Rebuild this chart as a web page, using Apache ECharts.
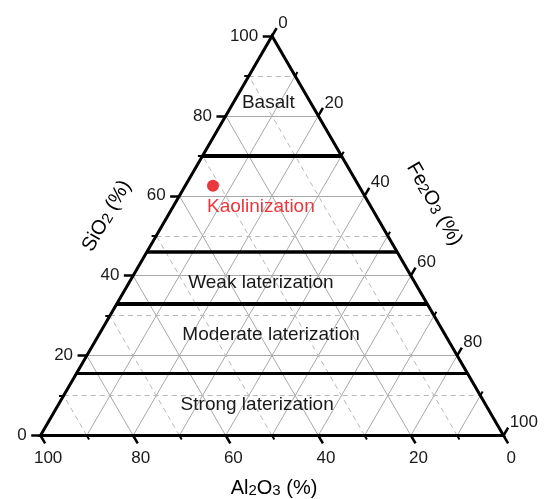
<!DOCTYPE html>
<html><head><meta charset="utf-8">
<script src="https://cdn.jsdelivr.net/npm/echarts@6/dist/echarts.min.js"></script>
<style>html,body{margin:0;padding:0;background:#fff}#c{width:548px;height:499px}</style>
</head><body><div id="c"></div>
<script>
// ---------------- data ----------------
const majorTicks = [0, 20, 40, 60, 80, 100];
const minorTicks = [10, 30, 50, 70, 90];
const gridSteps = [10, 20, 30, 40, 50, 60, 70, 80, 90];
const boundarySiO2 = [70, 46, 33, 15.5];
const zoneNames = ['Basalt', 'Kaolinization', 'Weak laterization', 'Moderate laterization', 'Strong laterization'];
const sampleSiO2 = [62.5];
const sampleAl2O3 = [31.5];
const sampleFe2O3 = [6];

// ---------------- layout ----------------
const FONT = 'Liberation Sans, Arial, Helvetica, sans-serif';
const TXT = '#1a1a1a';
const zoneAnchor = [[49.2, 83.2], [47.6, 57.3], [47.6, 38.2], [49.8, 25.2], [46.8, 7.6]];
const zoneColor = ['#1a1a1a', '#e8383d', '#1a1a1a', '#1a1a1a', '#1a1a1a'];
const boundaryWidth = [4, 3.5, 4, 3];
const TMAJ = 2.0, TMIN = 1.0;

// ternary (Al2O3 = bottom-left, SiO2 = top, Fe2O3 = bottom-right) -> plot coords
function toXY(a, s, f) {
  const sum = a + s + f;
  return [(f + s / 2) * 100 / sum, s * 100 / sum];
}

const solidSeg = [], dashSeg = [];
gridSteps.forEach(k => {
  const si = [toXY(100 - k, k, 0), toXY(0, k, 100 - k)];
  const fe = [toXY(100 - k, 0, k), toXY(0, 100 - k, k)];
  const al = [toXY(k, 0, 100 - k), toXY(k, 100 - k, 0)];
  const even = k % 20 === 0;
  (even ? solidSeg : dashSeg).push({coords: si});
  solidSeg.push({coords: fe});
  (even ? solidSeg : dashSeg).push({coords: al});
});

const boundarySeries = boundarySiO2.map((k, i) => ({
  type: 'lines', coordinateSystem: 'cartesian2d', polyline: false, silent: true, z: 4,
  lineStyle: {color: '#000', width: boundaryWidth[i], opacity: 1, curveness: 0},
  data: [{coords: [toXY(100 - k, k, 0), toXY(0, k, 100 - k)]}]
}));

function tickSegs(vals, t) {
  const out = [];
  vals.forEach(k => {
    out.push({coords: [toXY(100 - k, k, 0), toXY(100 - k + t, k, -t)]});      // SiO2 (left)
    out.push({coords: [toXY(0, 100 - k, k), toXY(-t, 100 - k + t, k)]});      // Fe2O3 (right)
    out.push({coords: [toXY(k, 0, 100 - k), toXY(k, -t, 100 - k + t)]});      // Al2O3 (bottom)
  });
  return out;
}

const siLabels = majorTicks.map(k => ({name: String(k), value: toXY(100 - k + TMAJ, k, -TMAJ)}));
const feLabels = majorTicks.map(k => ({name: String(k), value: toXY(-TMAJ, 100 - k + TMAJ, k)}));
const alLabels = majorTicks.map(k => ({name: String(k), value: toXY(k, -TMAJ, 100 - k + TMAJ)}));

function labelSeries(data, label) {
  return {
    type: 'scatter', symbolSize: 1, silent: true, z: 6,
    itemStyle: {color: 'rgba(0,0,0,0)', opacity: 1},
    label: Object.assign({show: true, formatter: p => p.name, color: TXT, fontSize: 17, fontFamily: FONT}, label),
    data: data
  };
}

const A = toXY(100, 0, 0), B = toXY(0, 0, 100), C = toXY(0, 100, 0);

const rich = {
  n: {fontSize: 20, fontFamily: FONT, color: TXT, lineHeight: 24, verticalAlign: 'bottom'},
  s: {fontSize: 15, fontFamily: FONT, color: TXT, lineHeight: 13, verticalAlign: 'bottom'}
};

const option = {
  animation: false,
  backgroundColor: '#fff',
  grid: {left: 3.46, right: 7.46, top: 4.04, bottom: 31.54, containLabel: false},
  xAxis: {type: 'value', min: -8, max: 108, show: false},
  yAxis: {type: 'value', min: -8, max: 108, show: false},
  graphic: [
    {type: 'text', x: 105, y: 215, rotation: Math.PI / 3,
     style: {text: '{n|SiO}{s|2}{n| (%)}', rich: rich, align: 'center', verticalAlign: 'middle'}},
    {type: 'text', x: 436, y: 203, rotation: -Math.PI / 3,
     style: {text: '{n|Fe}{s|2}{n|O}{s|3}{n| (%)}', rich: rich, align: 'center', verticalAlign: 'middle'}},
    {type: 'text', x: 274, y: 486,
     style: {text: '{n|Al}{s|2}{n|O}{s|3}{n| (%)}', rich: rich, align: 'center', verticalAlign: 'middle'}}
  ],
  series: [
    {type: 'lines', coordinateSystem: 'cartesian2d', polyline: false, silent: true, z: 2,
     lineStyle: {color: '#a8a8a8', width: 1, opacity: 1, curveness: 0}, data: solidSeg},
    {type: 'lines', coordinateSystem: 'cartesian2d', polyline: false, silent: true, z: 2,
     lineStyle: {color: '#b8b8b8', width: 1, type: [5, 4], opacity: 1, curveness: 0}, data: dashSeg},
    ...boundarySeries,
    {type: 'lines', coordinateSystem: 'cartesian2d', polyline: true, silent: true, z: 5,
     lineStyle: {color: '#000', width: 3, opacity: 1, curveness: 0, join: 'miter'},
     data: [{coords: [A, B, C, A, B]}]},
    {type: 'lines', coordinateSystem: 'cartesian2d', polyline: false, silent: true, z: 5,
     lineStyle: {color: '#000', width: 2.5, opacity: 1, curveness: 0}, data: tickSegs(majorTicks, TMAJ)},
    {type: 'lines', coordinateSystem: 'cartesian2d', polyline: false, silent: true, z: 5,
     lineStyle: {color: '#000', width: 2, opacity: 1, curveness: 0}, data: tickSegs(minorTicks, TMIN)},
    labelSeries(siLabels, {position: 'left', distance: 4}),
    labelSeries(feLabels, {position: 'right', distance: 1, offset: [0, -5]}),
    labelSeries(alLabels, {position: 'bottom', distance: 6, offset: [3, 0]}),
    {type: 'scatter', symbolSize: 1, silent: true, z: 6, itemStyle: {color: 'rgba(0,0,0,0)', opacity: 1},
     label: {show: true, position: 'inside', formatter: p => p.name, fontSize: 19, fontFamily: FONT, color: TXT},
     data: zoneNames.map((n, i) => ({name: n, value: zoneAnchor[i], label: {color: zoneColor[i]}}))},
    {type: 'scatter', symbol: 'circle', symbolSize: 12, z: 7, silent: true,
     itemStyle: {color: '#e8383d', opacity: 1},
     data: sampleSiO2.map((s, i) => toXY(sampleAl2O3[i], s, sampleFe2O3[i]))}
  ]
};

const chart = echarts.init(document.getElementById('c'), null, {renderer: 'canvas'});
chart.setOption(option);
</script>
</body></html>
